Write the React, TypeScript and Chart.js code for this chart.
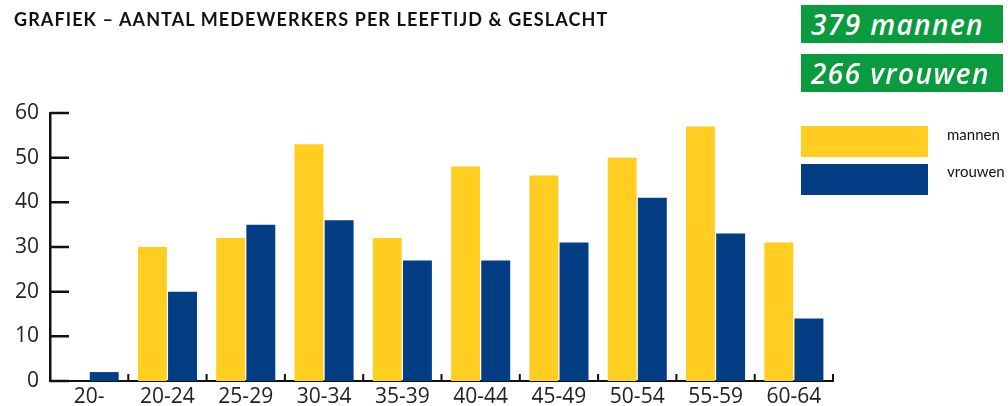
import React, { useEffect, useRef } from "react";
import { Chart, registerables } from "chart.js";

Chart.register(...registerables);

const categories = ["20-", "20-24", "25-29", "30-34", "35-39", "40-44", "45-49", "50-54", "55-59", "60-64"];
const mannen = [0, 30, 32, 53, 32, 48, 46, 50, 57, 31];
const vrouwen = [2, 20, 35, 36, 27, 27, 31, 41, 33, 14];
const yTicks = [0, 10, 20, 30, 40, 50, 60];
const seriesLabels = ["mannen", "vrouwen"];
const title = "GRAFIEK – AANTAL MEDEWERKERS PER LEEFTIJD & GESLACHT";

const YELLOW = "#FFCE21";
const BLUE = "#033E85";
const GREEN = "#0A9B3E";

const sum = (a: number[]) => a.reduce((s, v) => s + v, 0);

const tickPlugin = {
  id: "innerTicks",
  afterDraw(chart: any) {
    const ctx = chart.ctx;
    const y = chart.scales.y;
    const x = chart.scales.x;
    const area = chart.chartArea;
    ctx.save();
    ctx.strokeStyle = "#111";
    ctx.lineWidth = 2.5;
    ctx.beginPath();
    yTicks.forEach((v) => {
      const py = y.getPixelForValue(v);
      ctx.moveTo(area.left, py);
      ctx.lineTo(area.left + 19, py);
    });
    ctx.stroke();
    ctx.lineWidth = 2;
    ctx.beginPath();
    const n = categories.length;
    for (let i = 1; i <= n; i++) {
      const px = i < n
        ? (x.getPixelForValue(i - 1) + x.getPixelForValue(i)) / 2
        : area.right;
      ctx.moveTo(px, area.bottom);
      ctx.lineTo(px, area.bottom - 7);
    }
    ctx.stroke();
    ctx.restore();
  },
};

export default function App() {
  const ref = useRef<HTMLCanvasElement>(null);
  useEffect(() => {
    document.body.style.margin = "0";
    const chart = new Chart(ref.current!, {
      type: "bar",
      data: {
        labels: categories,
        datasets: [
          { label: seriesLabels[0], data: mannen, backgroundColor: YELLOW, categoryPercentage: 0.77, barPercentage: 0.96 },
          { label: seriesLabels[1], data: vrouwen, backgroundColor: BLUE, categoryPercentage: 0.77, barPercentage: 0.96 },
        ],
      },
      options: {
        animation: false,
        responsive: false,
        maintainAspectRatio: false,
        layout: { padding: { left: 0, right: 175, top: 113, bottom: 0 } },
        plugins: { legend: { display: false }, tooltip: { enabled: false }, title: { display: false } },
        scales: {
          x: {
            grid: { display: false, drawTicks: false },
            border: { display: true, color: "#111", width: 2 },
            ticks: { color: "#222", font: { family: "Open Sans", size: 21 }, padding: 3, maxRotation: 0, autoSkip: false },
            afterFit: (s: any) => { s.height = 25; },
          },
          y: {
            min: 0,
            max: 60,
            afterBuildTicks: (s: any) => { s.ticks = yTicks.map((v) => ({ value: v })); },
            grid: { display: false, drawTicks: false },
            border: { display: true, color: "#111", width: 2.5 },
            ticks: { color: "#222", font: { family: "Open Sans", size: 21 }, padding: 11 },
            afterFit: (s: any) => { s.width = 50; },
          },
        },
      },
      plugins: [tickPlugin],
    });
    return () => chart.destroy();
  }, []);

  const badge = (top: number, text: string) => (
    <div style={{
      position: "absolute", left: 801, top, width: 202, height: 38, background: GREEN,
      color: "#fff", fontFamily: "Open Sans", fontStyle: "italic", fontWeight: 600, fontSize: 28,
      lineHeight: "38px", paddingLeft: 10, boxSizing: "border-box", whiteSpace: "nowrap", letterSpacing: 1.4,
    }}>{text}</div>
  );

  return (
    <div style={{ position: "relative", width: 1008, height: 406, background: "#fff", overflow: "hidden" }}>
      <canvas ref={ref} width={1008} height={406} style={{ position: "absolute", left: 0, top: 0 }} />
      <div style={{
        position: "absolute", left: 14, top: 8, fontFamily: "Lato", fontWeight: 700, fontSize: 18,
        color: "#111", whiteSpace: "nowrap", letterSpacing: 1.1,
      }}>{title}</div>
      {badge(5, `${sum(mannen)} mannen`)}
      {badge(54, `${sum(vrouwen)} vrouwen`)}
      <div style={{ position: "absolute", left: 801, top: 126, width: 127, height: 31, background: YELLOW }} />
      <div style={{ position: "absolute", left: 801, top: 164, width: 127, height: 31, background: BLUE }} />
      <div style={{ position: "absolute", left: 947, top: 125, fontFamily: "Lato", fontSize: 15, color: "#111" }}>{seriesLabels[0]}</div>
      <div style={{ position: "absolute", left: 947, top: 162, fontFamily: "Lato", fontSize: 15, color: "#111" }}>{seriesLabels[1]}</div>
    </div>
  );
}
